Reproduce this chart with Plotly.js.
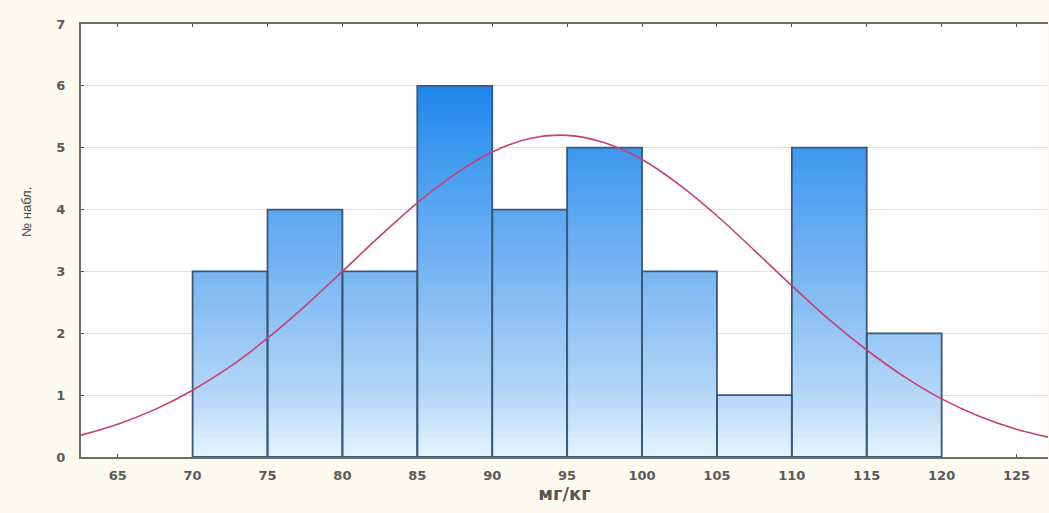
<!DOCTYPE html>
<html>
<head>
<meta charset="utf-8">
<script src="https://cdn.plot.ly/plotly-3.0.1.min.js"></script>
<style>
html,body{margin:0;padding:0;background:#fdfaf0;}
#chart{width:1049px;height:513px;}
</style>
</head>
<body>
<div id="chart"></div>
<script>
// Histogram bins (left edges, bin width 5) and observed counts
const binStart = [70, 75, 80, 85, 90, 95, 100, 105, 110, 115];
const binWidth = 5;
const counts   = [3, 4, 3, 6, 4, 5, 3, 1, 5, 2];

// Fitted normal curve
const curveX = [62.5, 65, 67.5, 70, 72.5, 75, 77.5, 80, 82.5, 85, 87.5, 90, 92.5, 95,
                97.5, 100, 102.5, 105, 107.5, 110, 112.5, 115, 117.5, 120, 122.5, 125, 127.5];
const curveY = [0.35, 0.53, 0.77, 1.08, 1.46, 1.92, 2.44, 3.00, 3.57, 4.11, 4.57, 4.93, 5.15, 5.20,
                5.08, 4.81, 4.40, 3.90, 3.34, 2.77, 2.22, 1.73, 1.30, 0.94, 0.66, 0.45, 0.30];

// Tick labels
const xTicks = [65, 70, 75, 80, 85, 90, 95, 100, 105, 110, 115, 120, 125];
const yTicks = [0, 1, 2, 3, 4, 5, 6, 7];

const xTitle = 'мг/кг';
const yTitle = '№ набл.';

// ---- styling helpers ----
const centers = binStart.map(b => b + binWidth / 2);
const stops = [ // [y level, rgb]
  [0, [232, 243, 253]],
  [1, [181, 215, 248]],
  [3, [120, 181, 242]],
  [5, [60, 152, 240]],
  [6, [30, 134, 236]],
  [7, [20, 120, 225]]
];
function colorAt(v) {
  for (let i = 0; i < stops.length - 1; i++) {
    const [a, ca] = stops[i], [b, cb] = stops[i + 1];
    if (v >= a && v <= b) {
      const t = (v - a) / (b - a);
      const c = ca.map((x, k) => Math.round(x + (cb[k] - x) * t));
      return `rgb(${c[0]},${c[1]},${c[2]})`;
    }
  }
  const c = stops[stops.length - 1][1];
  return `rgb(${c[0]},${c[1]},${c[2]})`;
}

const traces = [];
const step = 0.1;
const maxC = Math.max(...counts);
for (let L = 0; L < maxC - 1e-9; L += step) {
  const lv = Math.round(L * 100) / 100;
  traces.push({
    type: 'bar',
    x: centers,
    base: counts.map(() => lv),
    y: counts.map(c => c > lv + 1e-9 ? Math.min(step + 0.03, c - lv) : null),
    width: binWidth,
    marker: { color: colorAt(lv + step / 2), line: { width: 0 } },
    hoverinfo: 'skip',
    showlegend: false
  });
}
// outlines
traces.push({
  type: 'bar',
  x: centers,
  y: counts,
  width: binWidth,
  marker: { color: 'rgba(0,0,0,0)', line: { color: '#3a5878', width: 1.8 } },
  showlegend: false
});
// normal curve
traces.push({
  type: 'scatter',
  mode: 'lines',
  x: curveX,
  y: curveY,
  line: { color: '#c8406e', width: 1.6, shape: 'spline' },
  showlegend: false
});

const tickFont = { family: 'DejaVu Sans, Verdana, sans-serif', size: 13, color: '#5a5a5a', weight: 'bold' };

const layout = {
  width: 1049, height: 513,
  paper_bgcolor: '#fdfaf0',
  plot_bgcolor: '#ffffff',
  margin: { l: 81, r: 1, t: 24, b: 56 },
  barmode: 'overlay',
  bargap: 0,
  xaxis: {
    range: [62.55, 127.1],
    tickvals: xTicks,
    ticktext: xTicks.map(String),
    showgrid: false,
    zeroline: false,
    showline: true, linecolor: '#6e6e6e', linewidth: 2,
    mirror: 'ticks',
    ticks: 'inside', ticklen: 3, tickcolor: '#555555',
    tickfont: tickFont,
    ticklabelstandoff: 5,
    title: { text: xTitle, font: { family: 'DejaVu Sans, Verdana, sans-serif', size: 18, color: '#555555', weight: 'bold' }, standoff: 4 }
  },
  yaxis: {
    range: [0, 7],
    tickvals: yTicks,
    ticktext: yTicks.map(String),
    showgrid: true, gridcolor: '#e2e2e2', gridwidth: 1,
    zeroline: false,
    showline: true, linecolor: '#6e6e6e', linewidth: 2,
    ticks: 'inside', ticklen: 3, tickcolor: '#555555',
    tickfont: tickFont,
    ticklabelstandoff: 11
  },
  annotations: [{
    text: yTitle,
    xref: 'paper', yref: 'paper',
    x: -0.056, y: 0.566,
    xanchor: 'center', yanchor: 'middle',
    textangle: -90,
    showarrow: false,
    font: { family: 'Liberation Sans Narrow, Liberation Sans, Arial, sans-serif', size: 13, color: '#444444' }
  }]
};

Plotly.newPlot('chart', traces, layout, { staticPlot: true, displayModeBar: false });
</script>
</body>
</html>
